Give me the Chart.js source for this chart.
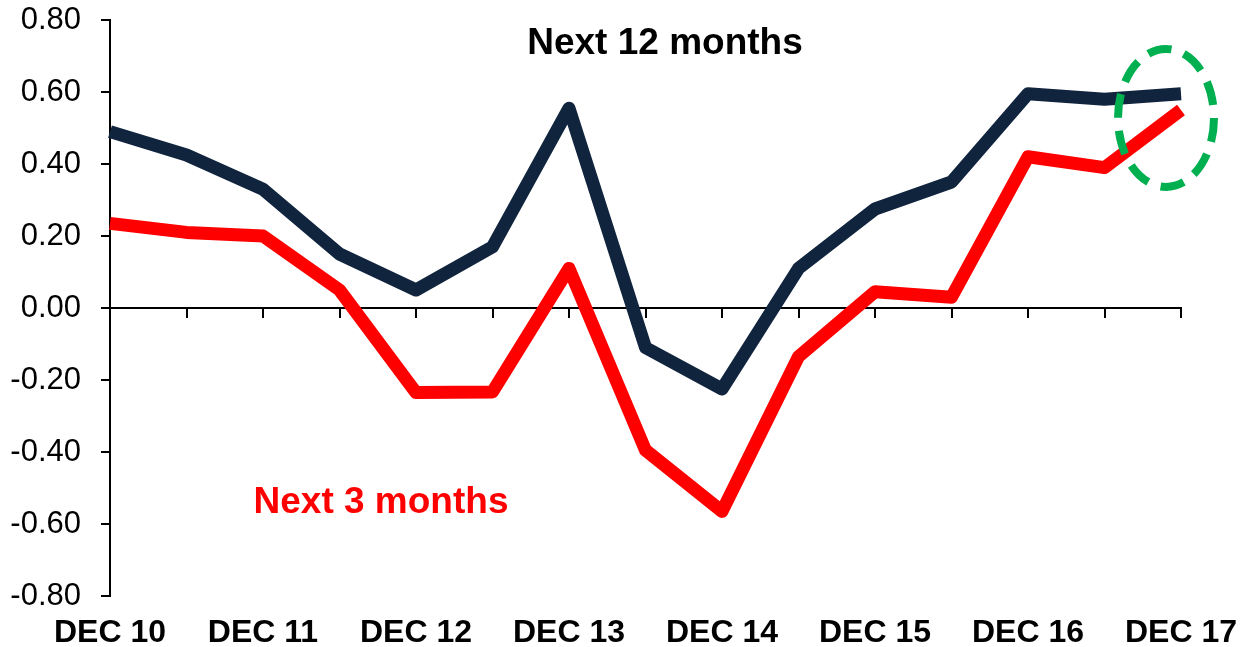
<!DOCTYPE html>
<html>
<head>
<meta charset="utf-8">
<script src="https://cdn.jsdelivr.net/npm/chart.js@4"></script>
<style>
  html, body { margin: 0; padding: 0; background: #fff; }
  #wrap { width: 1249px; height: 647px; position: relative; }
</style>
</head>
<body>
<div id="wrap"><canvas id="chartExpect"></canvas></div>
<script>
// half-yearly periods, only DEC labels shown
const periods = ['DEC 10', 'JUN 11', 'DEC 11', 'JUN 12', 'DEC 12', 'JUN 13', 'DEC 13', 'JUN 14',
                 'DEC 14', 'JUN 15', 'DEC 15', 'JUN 16', 'DEC 16', 'JUN 17', 'DEC 17'];
const next12 = [0.49, 0.425, 0.33, 0.15, 0.05, 0.17, 0.555, -0.11, -0.225, 0.11, 0.275, 0.35, 0.595, 0.58, 0.595];
const next3  = [0.235, 0.21, 0.2, 0.05, -0.235, -0.233, 0.11, -0.395, -0.565, -0.135, 0.045, 0.03, 0.42, 0.39, 0.55];
const yTicks = { min: -0.8, max: 0.8, step: 0.2 };

const FONT = '"Liberation Sans", Arial, sans-serif';

// ================= TEXTS + GREEN CIRCLE =================
const overlay = {
    id: 'overlay',
    afterDatasetsDraw(chart) {
        const ctx = chart.ctx;
        const x = chart.scales.x, y = chart.scales.y;
        ctx.save();
        ctx.font = 'bold 37px ' + FONT;
        ctx.textAlign = 'center';
        ctx.textBaseline = 'middle';
        ctx.fillStyle = '#000000';
        ctx.fillText('Next 12 months', 665, 44);
        ctx.fillStyle = '#ff0000';
        ctx.fillText('Next 3 months', 381, 503);

        // dashed ellipse around the latest reading
        const last = periods.length - 1;
        const cx = x.getPixelForValue(last) - 15;
        const cy = (y.getPixelForValue(next12[last]) + y.getPixelForValue(next3[last])) / 2 + 16;
        ctx.strokeStyle = '#00b050';
        ctx.lineWidth = 8;
        ctx.setLineDash([24, 13]);
        ctx.beginPath();
        ctx.ellipse(cx, cy, 48, 69, 0, 0, Math.PI * 2);
        ctx.stroke();
        ctx.restore();
    }
};

new Chart(document.getElementById('chartExpect'), {
    type: 'line',
    data: {
        labels: periods,
        datasets: [{
            label: 'Next 12 months',
            data: next12,
            borderColor: '#10243e',
            borderWidth: 13,
            borderJoinStyle: 'round',
            pointRadius: 0,
            tension: 0,
            xAxisID: 'x'
        }, {
            label: 'Next 3 months',
            data: next3,
            borderColor: '#ff0000',
            borderWidth: 13,
            borderJoinStyle: 'round',
            pointRadius: 0,
            tension: 0,
            xAxisID: 'x'
        }]
    },
    options: {
        responsive: true,
        maintainAspectRatio: false,
        animation: false,
        layout: { padding: { left: 0, right: 68, top: 20, bottom: 0 } },
        plugins: {
            legend: { display: false },
            tooltip: { enabled: false }
        },
        scales: {
            x: {
                type: 'category',
                position: 'bottom',
                offset: false,
                grid: { display: false },
                border: { display: false },
                ticks: {
                    autoSkip: false,
                    maxRotation: 0,
                    padding: 10,
                    color: '#000000',
                    font: { family: FONT, size: 32, weight: 'bold' },
                    callback: function (v, i) { return i % 2 === 0 ? periods[i] : ''; }
                },
                afterFit: function (s) { s.height = 51; s.paddingLeft = 0; s.paddingRight = 0; }
            },
            x0: {
                type: 'category',
                position: { y: 0 },
                offset: false,
                grid: { drawOnChartArea: false, drawTicks: true, tickLength: 9, color: '#000000', lineWidth: 2 },
                border: { display: true, color: '#000000', width: 2 },
                ticks: { display: false }
            },
            y: {
                min: yTicks.min,
                max: yTicks.max,
                grid: { drawOnChartArea: false, drawTicks: true, tickLength: 9, color: '#000000', lineWidth: 2 },
                border: { display: true, color: '#000000', width: 2 },
                ticks: {
                    stepSize: yTicks.step,
                    padding: 20,
                    color: '#000000',
                    font: { family: FONT, size: 31 },
                    callback: function (v) { return v.toFixed(2); }
                },
                afterFit: function (s) { s.width = 110; s.paddingTop = 0; s.paddingBottom = 0; }
            }
        }
    },
    plugins: [overlay]
});
</script>
</body>
</html>
